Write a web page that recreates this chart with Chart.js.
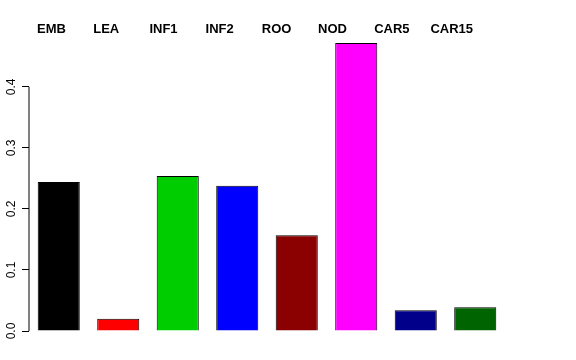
<!DOCTYPE html>
<html>
<head>
<meta charset="utf-8">
<script src="https://cdn.jsdelivr.net/npm/chart.js@4"></script>
<style>
  html, body { margin: 0; padding: 0; background: #fff; }
  #wrap { width: 576px; height: 360px; }
</style>
</head>
<body>
<div id="wrap"><canvas id="canvas" width="576" height="360"></canvas></div>
<script>
// tissus et valeurs
let tissues = ["EMB", "LEA", "INF1", "INF2", "ROO", "NOD", "CAR5", "CAR15"];
let values = [0.244, 0.020, 0.254, 0.238, 0.157, 0.472, 0.034, 0.039];
let barColors = ["#000000", "#FF0000", "#00CD00", "#0000FF", "#8B0000", "#FF00FF", "#00008B", "#006400"];
let yTicks = [0, 0.1, 0.2, 0.3, 0.4];

// ligne d'axe (de 0 a 0.4 seulement, comme R) et noms en haut
const rAxis = {
  id: 'rAxis',
  afterDraw(chart) {
    const c = chart.ctx;
    const y = chart.scales.y;
    const x0 = chart.chartArea.left;
    c.save();
    c.strokeStyle = '#000';
    c.lineWidth = 1;
    c.beginPath();
    c.moveTo(x0, y.getPixelForValue(yTicks[0]));
    c.lineTo(x0, y.getPixelForValue(yTicks[yTicks.length - 1]));
    c.stroke();
    c.fillStyle = '#000';
    c.font = 'bold 13px "Liberation Sans", Arial, sans-serif';
    c.textAlign = 'left';
    c.textBaseline = 'alphabetic';
    tissues.forEach((t, i) => {
      c.fillText(t, 37 + i * 56.2, 33);
    });
    c.restore();
  }
};

var ctx = document.getElementById('canvas').getContext('2d');
var chart = new Chart(ctx, {
  type: 'bar',
  data: {
    labels: tissues,
    datasets: [{
      data: values,
      backgroundColor: barColors,
      borderColor: '#000',
      borderWidth: 1,
      barPercentage: 0.707,
      categoryPercentage: 1
    }]
  },
  options: {
    responsive: false,
    animation: false,
    events: [],
    layout: { padding: { top: 38, bottom: 29, right: 71, left: 0 } },
    plugins: { legend: { display: false }, tooltip: { enabled: false } },
    scales: {
      x: { display: false },
      y: {
        min: 0,
        max: 0.48,
        border: { display: false },
        grid: { drawOnChartArea: false, drawTicks: true, tickLength: 7, color: '#000' },
        afterBuildTicks(scale) {
          scale.ticks = yTicks.map(v => ({ value: v }));
        },
        afterFit(scale) { scale.width = 29; },
        ticks: {
          color: '#000',
          minRotation: 90,
          maxRotation: 90,
          crossAlign: 'center',
          padding: 2,
          font: { family: '"Liberation Sans", Arial, sans-serif', size: 12 },
          callback: v => v.toFixed(1)
        }
      }
    }
  },
  plugins: [rAxis]
});
</script>
</body>
</html>
